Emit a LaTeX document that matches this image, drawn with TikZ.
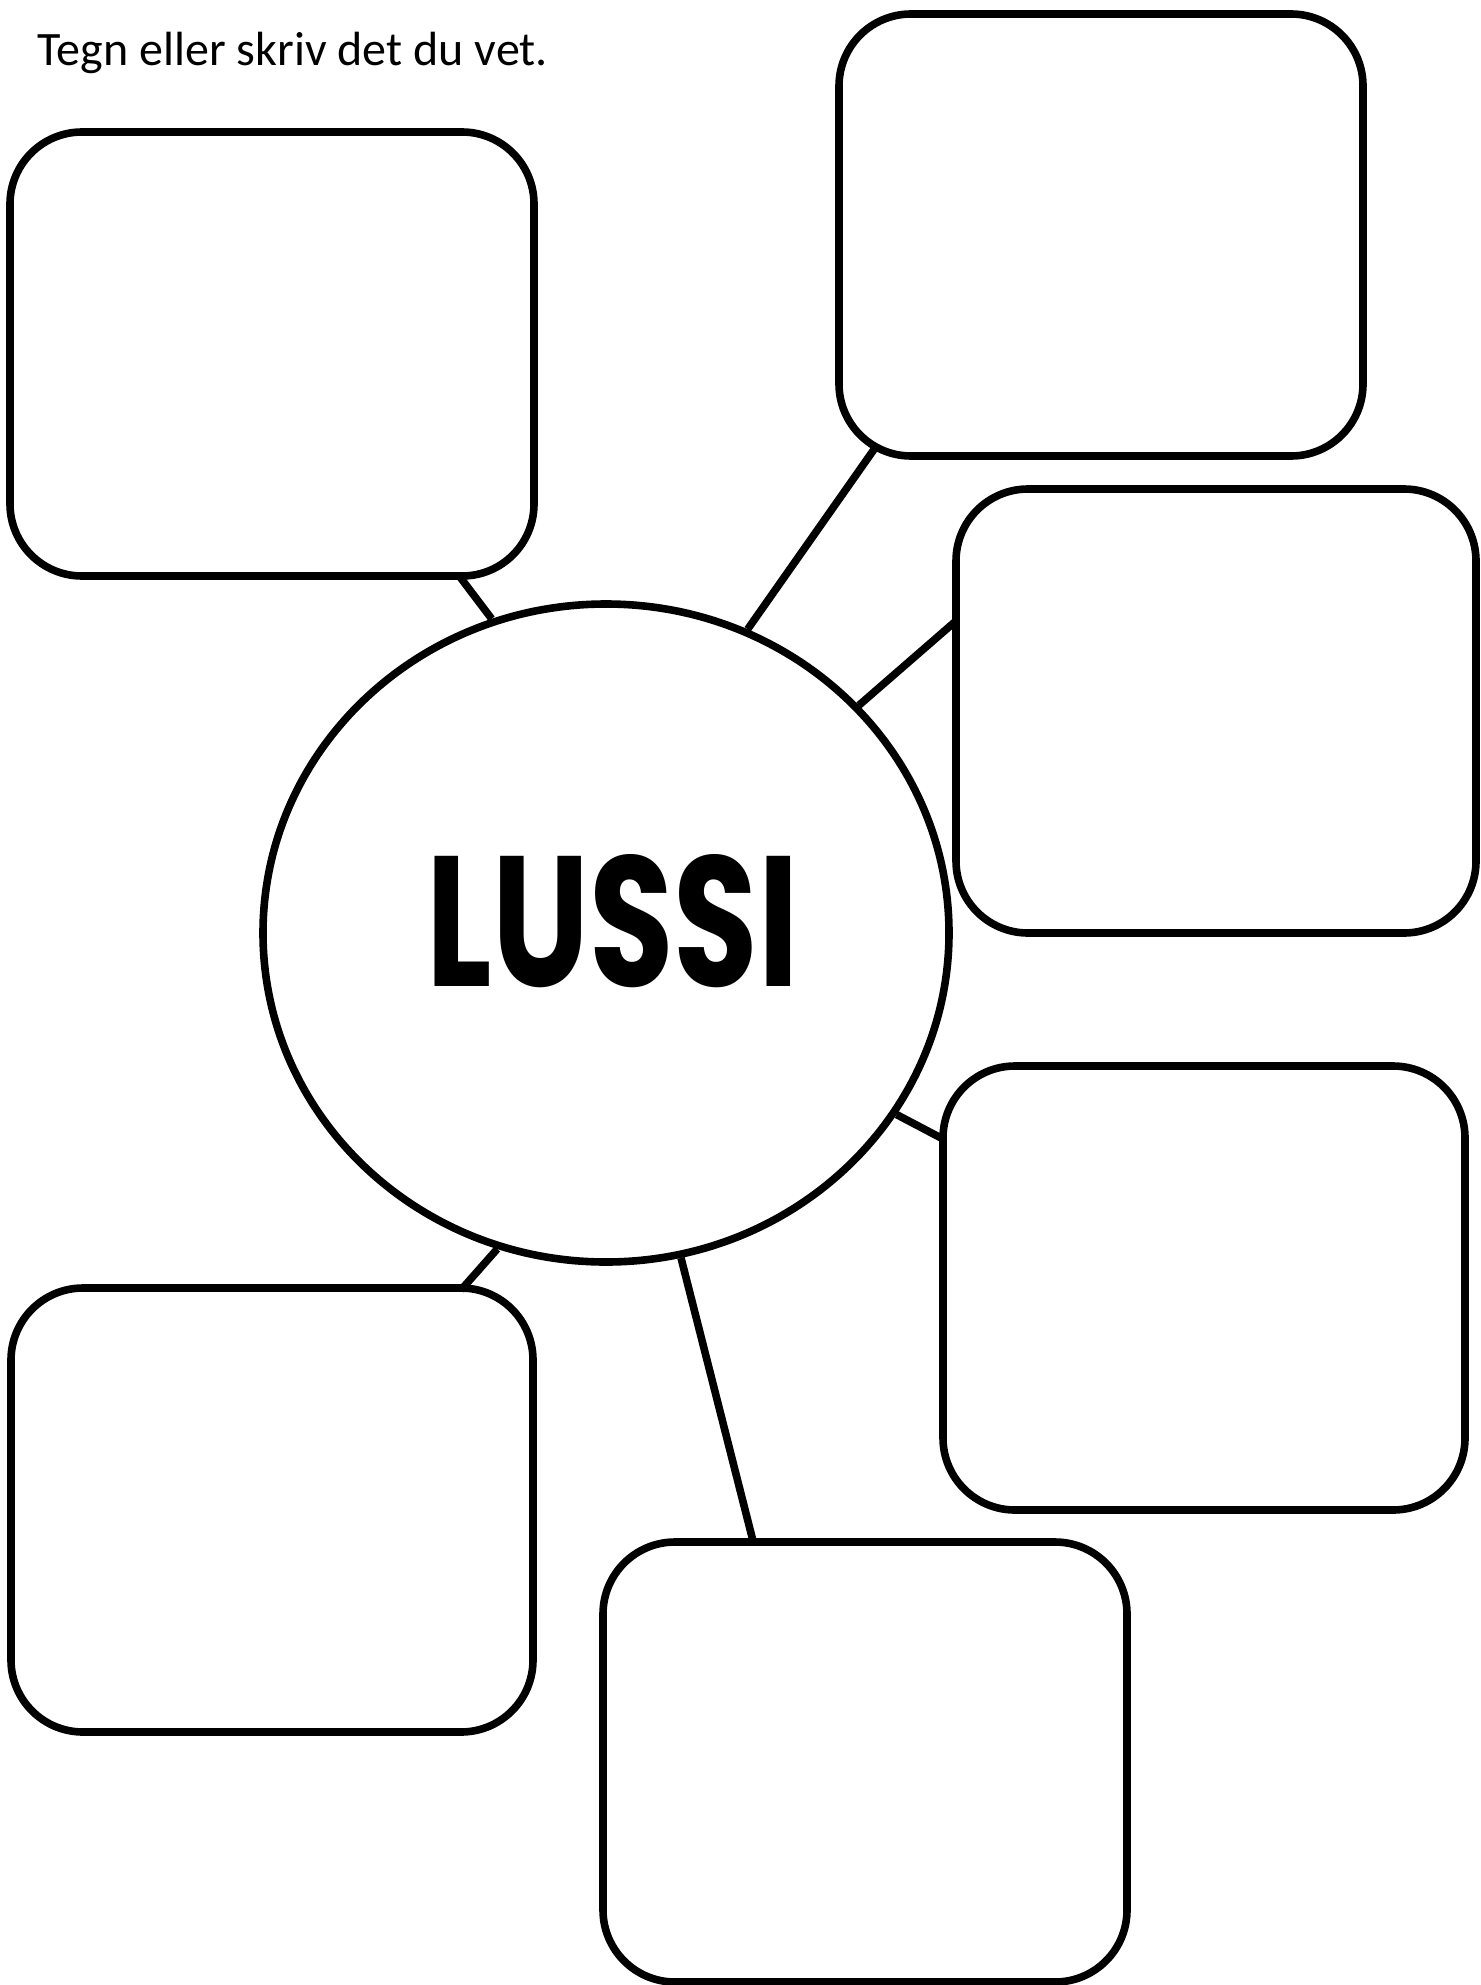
\documentclass[tikz,border=0pt]{standalone}
\usepackage{fontspec}
\setmainfont{Carlito}
\newfontfamily\lussifont{Poppins}
\usetikzlibrary{shapes.geometric,calc}
\begin{document}
\begin{tikzpicture}[x=0.5pt,y=-0.5pt,
  line width=3.8pt,
  card/.style={draw,rounded corners=36pt,inner sep=0pt},
  hub/.style={draw,ellipse,inner sep=0pt,minimum width=343pt,minimum height=329pt},
  link/.style={draw,line width=3.8pt}]
\useasboundingbox (0,0) rectangle (1481,1985);
\node[anchor=base west,font=\fontsize{24}{28}\selectfont,inner sep=0pt] (title) at (34,66) {Tegn eller skriv det du vet.};
\node[card,minimum width=262pt,minimum height=222pt] (A) at (272,354) {};
\node[card,minimum width=262pt,minimum height=221pt] (B) at (1101,235) {};
\node[card,minimum width=260pt,minimum height=222pt] (C) at (1216,711) {};
\node[card,minimum width=261pt,minimum height=222pt] (D) at (1204,1288) {};
\node[card,minimum width=261pt,minimum height=222pt] (E) at (272,1510) {};
\node[card,minimum width=262pt,minimum height=220pt] (F) at (865,1762) {};
\node[hub] (L) at (606,933) {};
\node[inner sep=0pt] (T) at (613,921) {\resizebox{186pt}{66pt}{\lussifont\bfseries LUSSI}};
\coordinate (a) at (460,577);
\coordinate (b) at (875,448);
\coordinate (c) at (957,620);
\coordinate (d) at (943,1139);
\coordinate (e) at (461,1290);
\coordinate (f) at (753,1541);
\draw[link] (a) -- (L.110.3);
\draw[link] (b) -- (L.65);
\draw[link] (c) -- (L.42.4);
\draw[link] (d) -- (L.-32.3);
\draw[link] (e) -- (L.-109.5);
\draw[link] (f) -- (L.-77);
\end{tikzpicture}
\end{document}
